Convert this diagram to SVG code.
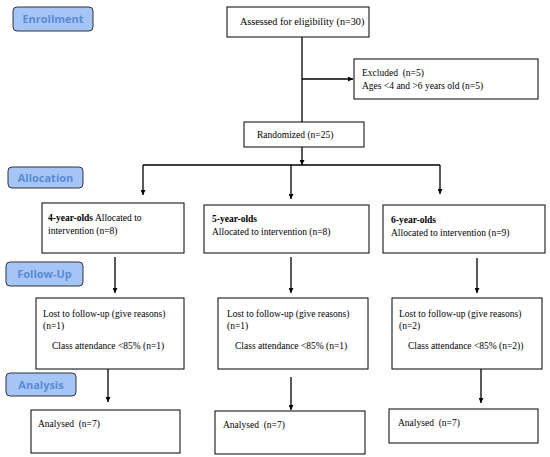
<svg xmlns="http://www.w3.org/2000/svg" width="550" height="457" viewBox="0 0 550 457">
<style>
.box{fill:#fff;stroke:#000;stroke-width:1}
.lab{fill:#a6c5f7;stroke:#333;stroke-width:1}
.lt{font-family:"Open Sans","Liberation Sans",sans-serif;font-weight:bold;font-size:11px;fill:#5a8bd2;text-anchor:middle}
.t{font-family:"Liberation Serif","Times New Roman",serif;font-size:9.5px;fill:#000;white-space:pre}
.b{font-weight:bold}
.c{stroke:#000;stroke-width:1.3;fill:none}
</style>
<defs>
<marker id="ah" viewBox="0 0 10 10" refX="10" refY="5" markerWidth="5" markerHeight="5" orient="auto" markerUnits="userSpaceOnUse">
<path d="M0,0 L10,5 L0,10 z" fill="#000"/>
</marker>
</defs>
<g id="connectors">
<line class="c" x1="302" y1="37" x2="302" y2="122"/>
<line class="c" x1="302" y1="79" x2="353" y2="79" marker-end="url(#ah)"/>
<line class="c" x1="302" y1="147" x2="302" y2="165" marker-end="url(#ah)"/>
<line class="c" x1="143" y1="165" x2="440" y2="165"/>
<line class="c" x1="143" y1="165" x2="143" y2="195" marker-end="url(#ah)"/>
<line class="c" x1="291" y1="165" x2="291" y2="199" marker-end="url(#ah)"/>
<line class="c" x1="440" y1="165" x2="440" y2="194" marker-end="url(#ah)"/>
<line class="c" x1="115" y1="257" x2="115" y2="293" marker-end="url(#ah)"/>
<line class="c" x1="291" y1="257" x2="291" y2="293" marker-end="url(#ah)"/>
<line class="c" x1="477" y1="258" x2="477" y2="293" marker-end="url(#ah)"/>
<line class="c" x1="108" y1="369" x2="108" y2="402" marker-end="url(#ah)"/>
<line class="c" x1="291" y1="377" x2="291" y2="410" marker-end="url(#ah)"/>
<line class="c" x1="481" y1="369" x2="481" y2="403" marker-end="url(#ah)"/>
</g>
<g id="enrollment"><rect class="lab" x="13" y="7" width="80" height="24" rx="4"/><text class="lt" x="53" y="23">Enrollment</text></g>
<g id="allocation"><rect class="lab" x="8" y="167" width="75" height="21" rx="4"/><text class="lt" x="45.5" y="181.5">Allocation</text></g>
<g id="followup"><rect class="lab" x="6" y="262" width="77" height="24" rx="4"/><text class="lt" x="44.5" y="278">Follow-Up</text></g>
<g id="analysis"><rect class="lab" x="6" y="373" width="70" height="23" rx="4"/><text class="lt" x="41" y="389">Analysis</text></g>
<g id="assessed"><rect class="box" x="227" y="7" width="142" height="30"/><text class="t" x="240" y="25" style="font-size:10.2px">Assessed for eligibility (n=30)</text></g>
<g id="excluded"><rect class="box" x="354" y="59" width="184" height="40"/><text class="t" x="362" y="76" xml:space="preserve">Excluded  (n=5)</text><text class="t" x="362" y="89">Ages &lt;4 and &gt;6 years old (n=5)</text></g>
<g id="randomized"><rect class="box" x="244" y="122" width="120" height="25"/><text class="t" x="257" y="138">Randomized (n=25)</text></g>
<g id="alloc4"><rect class="box" x="42" y="203" width="142" height="50"/><text class="t" x="48" y="221"><tspan class="b">4-year-olds</tspan> Allocated to</text><text class="t" x="48" y="234">intervention (n=8)</text></g>
<g id="alloc5"><rect class="box" x="204" y="205" width="165" height="48"/><text class="t b" x="212" y="222">5-year-olds</text><text class="t" x="212" y="235">Allocated to intervention (n=8)</text></g>
<g id="alloc6"><rect class="box" x="383" y="205" width="162" height="48"/><text class="t b" x="391" y="223">6-year-olds</text><text class="t" x="391" y="236">Allocated to intervention (n=9)</text></g>
<g id="lost4"><rect class="box" x="36" y="298" width="148" height="71"/><text class="t" x="43" y="317">Lost to follow-up (give reasons)</text><text class="t" x="43" y="329">(n=1)</text><text class="t" x="52" y="349">Class attendance &lt;85% (n=1)</text></g>
<g id="lost5"><rect class="box" x="218" y="298" width="150" height="71"/><text class="t" x="227" y="317">Lost to follow-up (give reasons)</text><text class="t" x="227" y="329">(n=1)</text><text class="t" x="235" y="349">Class attendance &lt;85% (n=1)</text></g>
<g id="lost6"><rect class="box" x="392" y="298" width="150" height="71"/><text class="t" x="399" y="317">Lost to follow-up (give reasons)</text><text class="t" x="399" y="329">(n=2)</text><text class="t" x="408" y="349">Class attendance &lt;85% (n=2))</text></g>
<g id="analysed4"><rect class="box" x="31" y="410" width="149" height="43"/><text class="t" x="38" y="427" xml:space="preserve">Analysed  (n=7)</text></g>
<g id="analysed5"><rect class="box" x="215" y="411" width="150" height="43"/><text class="t" x="223" y="428" xml:space="preserve">Analysed  (n=7)</text></g>
<g id="analysed6"><rect class="box" x="389" y="409" width="149" height="34"/><text class="t" x="398" y="426" xml:space="preserve">Analysed  (n=7)</text></g>
</svg>
